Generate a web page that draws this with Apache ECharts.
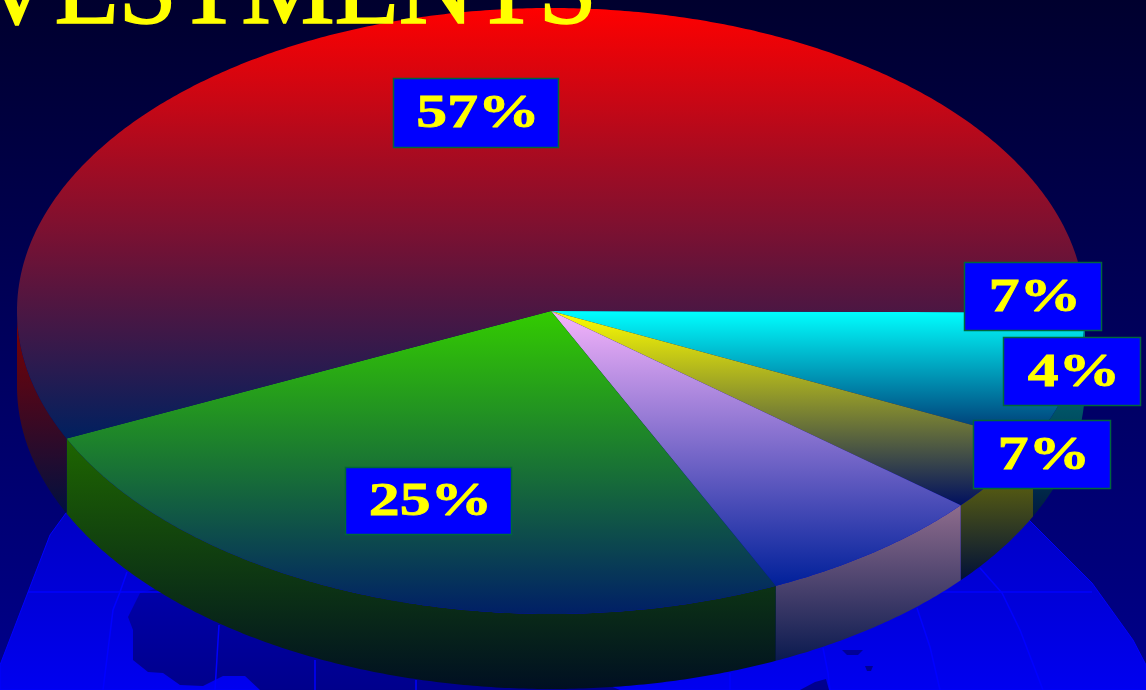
<!DOCTYPE html>
<html>
<head>
<meta charset="utf-8">
<style>html,body{margin:0;padding:0;background:#000050}#chart{width:1146px;height:690px}</style>
<script src="https://cdn.jsdelivr.net/npm/echarts@6/dist/echarts.min.js"></script>
</head>
<body>
<div id="chart"></div>
<script>
// Portfolio shares in percent, clockwise from three o'clock.
const sliceShares = [7, 4, 7, 25, 57];
const titleText = 'INVESTMENTS';

// Tilted disc geometry; the first slice starts a hair below the horizontal.
const disc = { cx: 551, cy: 311, rx: 534, ry: 303, depth: 75, startDeg: 0.3 };

// Vertical gradient stops of each slice: face [top, bottom], wall [top, bottom].
const faceColors = [
  ['#00ffff', '#002a6a'], ['#ffff00', '#001060'], ['#f6b4fb', '#00209a'],
  ['#33cc00', '#001f66'], ['#ff0000', '#00205f']
];
const wallColors = [
  ['#008888', '#001a40'], ['#7c7c00', '#001038'], ['#8e6c8c', '#0a1a50'],
  ['#1e6600', '#000f22'], ['#800000', '#001040']
];

// Value tag boxes [left, top, right, bottom].
const tagBoxes = [
  [964, 262, 1101, 330], [1003, 337, 1140, 405], [973, 420, 1110, 488],
  [345, 467, 511, 534], [393, 78, 558, 147]
];

const total = sliceShares.reduce((a, b) => a + b, 0);
const deg = Math.PI / 180;

function sliceRange(i) {
  const before = sliceShares.slice(0, i).reduce((a, b) => a + b, 0);
  return [disc.startDeg + before / total * 360, disc.startDeg + (before + sliceShares[i]) / total * 360];
}
function rimPoint(t, drop) {
  return [disc.cx + disc.rx * Math.cos(t * deg), disc.cy + drop + disc.ry * Math.sin(t * deg)];
}
function arc(a, b, drop) {
  const pts = [];
  const n = Math.max(2, Math.ceil(Math.abs(b - a) * 2));
  for (let k = 0; k <= n; k++) pts.push(rimPoint(a + (b - a) * k / n, drop));
  return pts;
}
function spanY(pts) {
  const ys = pts.map(p => p[1]);
  return [Math.min.apply(null, ys), Math.max.apply(null, ys)];
}
function vGradient(y0, y1, pair) {
  return new echarts.graphic.LinearGradient(0, y0, 0, y1, [
    { offset: 0, color: pair[0] }, { offset: 1, color: pair[1] }
  ], true);
}

// Outer wall: only the part of each slice on the near half of the disc is seen.
function renderWall(params) {
  const r = sliceRange(params.dataIndex);
  const a = r[0], b = Math.min(r[1], 180);
  if (a >= 180) return { type: 'group', children: [] };
  const top = arc(a, b, 0);
  const low = arc(b, a, disc.depth);
  const pts = top.concat(low);
  const ext = spanY(pts);
  return {
    type: 'polygon',
    shape: { points: pts },
    style: { fill: vGradient(ext[0], ext[1], wallColors[params.dataIndex]) }
  };
}

// Upper face of each slice.
function renderFace(params) {
  const r = sliceRange(params.dataIndex);
  const pts = [[disc.cx, disc.cy]].concat(arc(r[0], r[1], 0));
  const ext = spanY(pts);
  return {
    type: 'polygon',
    shape: { points: pts },
    style: { fill: vGradient(ext[0], ext[1], faceColors[params.dataIndex]) }
  };
}

// Blue tag holding the stretched percentage text.
function renderTag(params, api) {
  const b = tagBoxes[params.dataIndex];
  return {
    type: 'group',
    children: [
      {
        type: 'rect',
        shape: { x: b[0] + 0.5, y: b[1] + 0.5, width: b[2] - b[0], height: b[3] - b[1] },
        style: { fill: '#0000ff', stroke: '#00663c', lineWidth: 1.5 }
      },
      {
        type: 'text',
        x: (b[0] + b[2]) / 2 + 2.5,
        y: (b[1] + b[3]) / 2 + 3,
        scaleX: 1.34,
        style: {
          text: api.value(0) + '%',
          font: 'bold 46px "Liberation Serif"',
          fill: '#ffff00',
          stroke: '#ffff00',
          lineWidth: 0.8,
          align: 'center',
          verticalAlign: 'middle'
        }
      }
    ]
  };
}

// Backdrop: night gradient with a faint globe behind the disc.
const gridLine = pts => ({
  type: 'polyline', z: 1, shape: { points: pts },
  style: { stroke: '#0000ff', lineWidth: 1.5, fill: null }
});
const land = pts => ({
  type: 'polygon', z: 1, shape: { points: pts },
  style: {
    fill: new echarts.graphic.LinearGradient(0, 590, 0, 690, [
      { offset: 0, color: '#0000a8' }, { offset: 1, color: '#00008c' }
    ], true)
  }
});
const backdrop = [
  {
    type: 'polygon', z: 0,
    shape: { points: [[0, 665], [50, 535], [66, 513], [110, 470], [1000, 470], [1029, 520], [1092, 583], [1133, 640], [1146, 665], [1146, 690], [0, 690]] },
    style: {
      fill: new echarts.graphic.LinearGradient(0, 513, 0, 690, [
        { offset: 0, color: '#0000c4' }, { offset: 1, color: '#0000f0' }
      ], true),
      stroke: '#0000ff', lineWidth: 1
    }
  },
  land([[140, 593], [128, 617], [133, 630], [133, 660], [148, 672], [163, 673], [180, 685], [203, 686], [223, 676], [245, 676], [260, 690], [620, 690], [400, 600], [170, 585]]),
  land([[842, 650], [863, 650], [858, 655], [847, 655]]),
  land([[865, 666], [873, 666], [871, 671], [867, 671]]),
  land([[800, 690], [815, 682], [826, 679], [829, 690]]),
  gridLine([[28, 592], [1092, 592]]),
  gridLine([[127, 572], [120, 592], [113, 610], [103, 690]]),
  gridLine([[219, 625], [215, 690]]),
  gridLine([[315, 660], [315, 690]]),
  gridLine([[416, 680], [416, 690]]),
  gridLine([[730, 673], [730, 690]]),
  gridLine([[823, 648], [828, 673], [830, 690]]),
  gridLine([[917, 608], [930, 647], [940, 690]]),
  gridLine([[980, 568], [1002, 593], [1020, 630], [1043, 690]])
];

const seriesData = sliceShares.map(v => [v]);

const chart = echarts.init(document.getElementById('chart'), null, { renderer: 'canvas' });
chart.setOption({
  animation: false,
  backgroundColor: new echarts.graphic.LinearGradient(0, 0, 0, 1, [
    { offset: 0, color: '#00002e' }, { offset: 1, color: '#00008c' }
  ]),
  tooltip: { show: false },
  graphic: {
    elements: backdrop.concat([{
      type: 'text', z: 20,
      x: 597, y: 48,
      style: {
        text: titleText,
        font: '105px "Liberation Serif"',
        fill: '#ffff00',
        stroke: '#ffff00',
        lineWidth: 1.5,
        align: 'right',
        verticalAlign: 'bottom'
      }
    }])
  },
  series: [
    { type: 'custom', coordinateSystem: 'none', z: 3, silent: true, renderItem: renderWall, data: seriesData },
    { type: 'custom', coordinateSystem: 'none', z: 4, silent: true, renderItem: renderFace, data: seriesData },
    { type: 'custom', coordinateSystem: 'none', z: 5, silent: true, renderItem: renderTag, data: seriesData }
  ]
});
</script>
</body>
</html>
